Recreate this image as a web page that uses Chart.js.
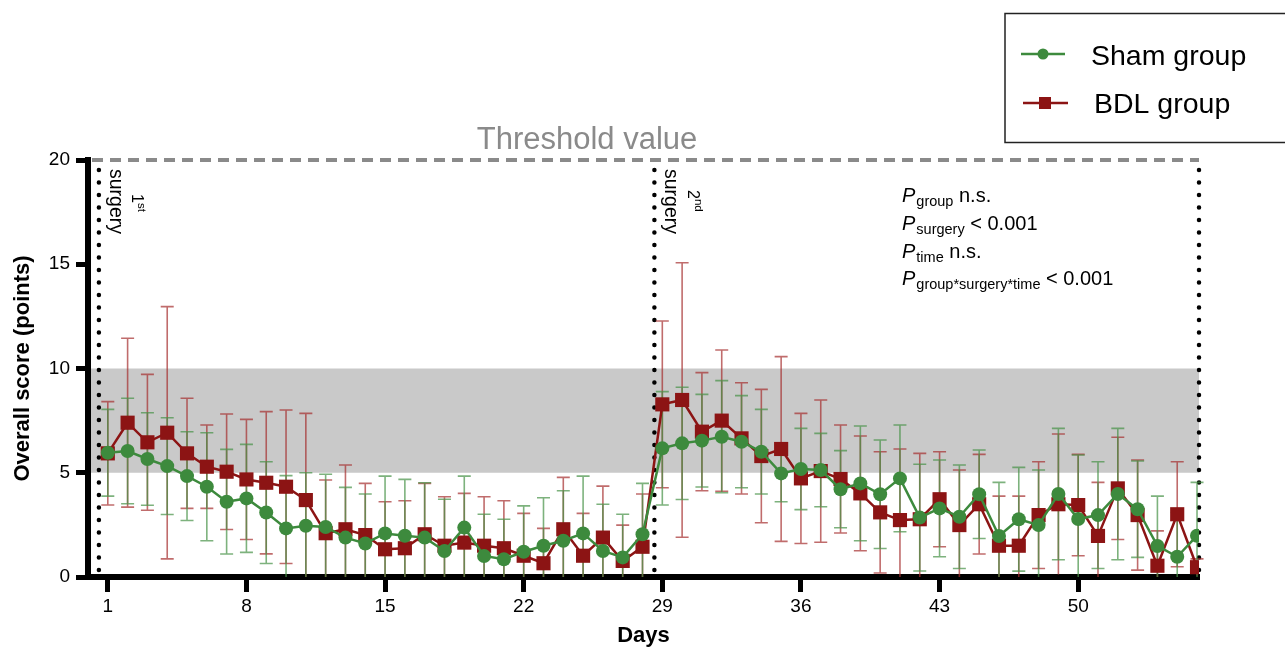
<!DOCTYPE html>
<html>
<head>
<meta charset="utf-8">
<script src="https://cdn.jsdelivr.net/npm/chart.js@4.4.1/dist/chart.umd.min.js"></script>
<style>
  html, body { margin: 0; padding: 0; background: #fff; }
  #wrap { width: 1285px; height: 650px; position: relative; }
</style>
</head>
<body>
<div id="wrap"><canvas id="scoreChart"></canvas></div>
<script>
// ---- data ----
const days = [1, 2, 3, 4, 5, 6, 7, 8, 9, 10, 11, 12, 13, 14, 15, 16, 17, 18, 19, 20, 21, 22, 23, 24, 25, 26, 27, 28,
              29, 30, 31, 32, 33, 34, 35, 36, 37, 38, 39, 40, 41, 42, 43, 44, 45, 46, 47, 48, 49, 50, 51, 52, 53, 54, 55, 56];
const xTickValues = [1, 8, 15, 22, 29, 36, 43, 50];

const shamMean = [5.96, 6.04, 5.66, 5.32, 4.84, 4.33, 3.61, 3.77, 3.09, 2.33, 2.46, 2.40, 1.89, 1.61, 2.09, 1.98, 1.89, 1.25, 2.37, 1.01, 0.85, 1.21, 1.50, 1.74, 2.09, 1.25, 0.94, 2.05,
                  6.17, 6.41, 6.54, 6.73, 6.49, 6.01, 4.97, 5.18, 5.13, 4.21, 4.49, 3.97, 4.73, 2.85, 3.29, 2.89, 3.97, 1.97, 2.77, 2.49, 3.98, 2.78, 2.97, 3.98, 3.25, 1.49, 0.97, 1.98];
const shamSD   = [2.08, 2.53, 2.22, 2.32, 2.13, 2.59, 2.51, 2.59, 2.44, 2.53, 2.54, 2.53, 2.41, 2.37, 2.75, 2.70, 2.63, 2.48, 2.47, 2.00, 1.92, 2.20, 2.30, 2.40, 2.75, 2.24, 2.07, 2.44,
                  2.72, 2.69, 2.22, 2.69, 2.21, 2.03, 1.36, 1.95, 1.76, 1.85, 2.75, 2.60, 2.56, 2.56, 2.32, 2.48, 2.12, 2.57, 2.49, 2.64, 3.15, 3.07, 2.56, 3.15, 2.31, 2.39, 2.12, 2.56];

const bdlMean  = [5.93, 7.40, 6.46, 6.92, 5.93, 5.29, 5.05, 4.68, 4.52, 4.33, 3.69, 2.10, 2.29, 2.01, 1.33, 1.38, 2.05, 1.50, 1.65, 1.50, 1.38, 1.02, 0.66, 2.29, 1.02, 1.89, 0.77, 1.45,
                  8.28, 8.49, 6.97, 7.50, 6.65, 5.80, 6.14, 4.73, 5.08, 4.70, 4.01, 3.10, 2.73, 2.77, 3.73, 2.49, 3.49, 1.50, 1.50, 2.97, 3.49, 3.45, 1.97, 4.25, 2.97, 0.54, 3.01, 0.47];
const bdlSD    = [2.48, 4.05, 3.26, 6.05, 2.64, 2.00, 2.77, 2.88, 3.41, 3.68, 4.16, 2.55, 3.08, 2.48, 2.28, 2.28, 2.44, 2.35, 2.36, 2.35, 2.28, 2.03, 1.67, 2.49, 2.03, 2.47, 1.72, 2.53,
                  4.00, 6.58, 2.83, 3.39, 2.67, 3.20, 4.43, 3.12, 3.41, 2.59, 2.75, 2.91, 3.41, 3.16, 2.28, 2.64, 2.39, 2.38, 2.38, 2.56, 3.37, 2.43, 2.57, 2.45, 2.64, 1.67, 2.52, 0.40];

const normalBand = [5, 10];          // grey shaded range
const thresholdValue = 20;           // dashed line
const surgeryDays = [0.55, 28.6];    // dotted vertical lines
const statLines = [
    ['group', ' n.s.'],
    ['surgery', ' < 0.001'],
    ['time', ' n.s.'],
    ['group*surgery*time', ' < 0.001']
];

const shamColor = '#3d8a3d';
const bdlColor = '#8c1414';
const shamBarColor = 'rgba(70, 145, 70, 0.7)';
const bdlBarColor = 'rgba(165, 45, 45, 0.7)';
const FONT = '"Liberation Sans", Arial, Helvetica, sans-serif';

function toPoints(means){
    return days.map((d, i) => ({x: d, y: means[i]}));
}

// error bars (mean +/- SD), clipped at 0
function drawErrorBars(ctx, x, y, means, sds, color){
    ctx.save();
    ctx.strokeStyle = color;
    ctx.lineWidth = 1.6;
    days.forEach((d, i) => {
        const px = x.getPixelForValue(d);
        const hi = means[i] + sds[i];
        const lo = means[i] - sds[i];
        const pHi = y.getPixelForValue(hi);
        const pLo = y.getPixelForValue(Math.max(0, lo));
        ctx.beginPath();
        ctx.moveTo(px, pHi);
        ctx.lineTo(px, pLo);
        ctx.moveTo(px - 6.5, pHi);
        ctx.lineTo(px + 6.5, pHi);
        if (lo > 0.15) {
            ctx.moveTo(px - 6.5, pLo);
            ctx.lineTo(px + 6.5, pLo);
        }
        ctx.stroke();
    });
    ctx.restore();
}

// rotated (top-to-bottom) text with optional superscript parts
function drawVertical(ctx, x, y, parts){
    ctx.save();
    ctx.translate(x, y);
    ctx.rotate(Math.PI / 2);
    ctx.fillStyle = '#000';
    ctx.textAlign = 'left';
    ctx.textBaseline = 'alphabetic';
    let cx = 0;
    parts.forEach(p => {
        ctx.font = p.font;
        ctx.fillText(p.t, cx, -(p.rise || 0));
        cx += ctx.measureText(p.t).width;
    });
    ctx.restore();
}

const overlayPlugin = {
    id: 'overlay',
    beforeDatasetsDraw(chart){
        const {ctx, chartArea: a, scales: {x, y}} = chart;
        ctx.save();
        // grey band
        const bTop = y.getPixelForValue(normalBand[1]);
        const bBot = y.getPixelForValue(normalBand[0]);
        ctx.fillStyle = '#c9c9c9';
        ctx.fillRect(a.left + 3, bTop, a.right - a.left - 3, bBot - bTop);

        // dotted surgery lines + right border
        ctx.strokeStyle = '#000';
        ctx.lineWidth = 4.5;
        ctx.lineCap = 'round';
        ctx.setLineDash([0, 12.5]);
        surgeryDays.concat([x.max]).forEach(d => {
            const px = x.getPixelForValue(d);
            ctx.beginPath();
            ctx.moveTo(px, y.getPixelForValue(thresholdValue) + 10);
            ctx.lineTo(px, a.bottom - 2);
            ctx.stroke();
        });
        ctx.setLineDash([]);

        // threshold line
        const tY = y.getPixelForValue(thresholdValue);
        ctx.strokeStyle = '#8a8a8a';
        ctx.lineWidth = 4;
        ctx.lineCap = 'butt';
        ctx.setLineDash([11, 7]);
        ctx.beginPath();
        ctx.moveTo(a.left + 4, tY);
        ctx.lineTo(a.right, tY);
        ctx.stroke();
        ctx.setLineDash([]);
        ctx.restore();

        // error bars
        drawErrorBars(ctx, x, y, bdlMean, bdlSD, bdlBarColor);
        drawErrorBars(ctx, x, y, shamMean, shamSD, shamBarColor);
    },
    afterDraw(chart){
        const {ctx, scales: {x}} = chart;
        ctx.save();
        // threshold label
        ctx.fillStyle = '#8a8a8a';
        ctx.font = '31px ' + FONT;
        ctx.textAlign = 'center';
        ctx.fillText('Threshold value', 587, 149);

        // surgery labels
        const s1 = x.getPixelForValue(surgeryDays[0]);
        const s2 = x.getPixelForValue(surgeryDays[1]);
        drawVertical(ctx, s1 + 11, 169, [{t: 'surgery', font: '19.5px ' + FONT}]);
        drawVertical(ctx, s1 + 33, 194, [{t: '1', font: '16px ' + FONT}, {t: 'st', font: '11.5px ' + FONT, rise: 6.5}]);
        drawVertical(ctx, s2 + 11, 169, [{t: 'surgery', font: '19.5px ' + FONT}]);
        drawVertical(ctx, s2 + 34, 190, [{t: '2', font: '16px ' + FONT}, {t: 'nd', font: '11.5px ' + FONT, rise: 6.5}]);

        // statistics block
        ctx.fillStyle = '#000';
        ctx.textAlign = 'left';
        statLines.forEach((ln, i) => {
            const by = 202 + i * 27.8;
            let cx = 902;
            ctx.font = 'italic 20px ' + FONT;
            ctx.fillText('P', cx, by);
            cx += ctx.measureText('P').width + 1;
            ctx.font = '14.5px ' + FONT;
            ctx.fillText(ln[0], cx, by + 4);
            cx += ctx.measureText(ln[0]).width;
            ctx.font = '20px ' + FONT;
            ctx.fillText(ln[1], cx, by);
        });

        // legend box
        ctx.strokeStyle = '#222';
        ctx.lineWidth = 1.5;
        ctx.strokeRect(1005, 13.5, 300, 129);
        const ds = chart.data.datasets;
        ctx.lineWidth = 2.5;
        // sham entry
        ctx.strokeStyle = shamColor;
        ctx.beginPath(); ctx.moveTo(1021, 54); ctx.lineTo(1065, 54); ctx.stroke();
        ctx.fillStyle = shamColor;
        ctx.beginPath(); ctx.arc(1043, 54, 5.5, 0, Math.PI * 2); ctx.fill();
        // bdl entry
        ctx.strokeStyle = bdlColor;
        ctx.beginPath(); ctx.moveTo(1023, 103); ctx.lineTo(1068, 103); ctx.stroke();
        ctx.fillStyle = bdlColor;
        ctx.fillRect(1039, 97, 12, 12);
        ctx.fillStyle = '#000';
        ctx.font = '28.5px ' + FONT;
        ctx.fillText(ds[0].label, 1091, 65);
        ctx.fillText(ds[1].label, 1094, 113);
        ctx.restore();
    }
};

new Chart(document.getElementById('scoreChart'), {
    type: 'line',
    data: {
        datasets: [
            {
                label: 'Sham group',
                data: toPoints(shamMean),
                borderColor: shamColor,
                backgroundColor: shamColor,
                borderWidth: 2.5,
                pointStyle: 'circle',
                pointRadius: 7,
                pointBorderWidth: 0,
                fill: false,
                tension: 0
            },
            {
                label: 'BDL group',
                data: toPoints(bdlMean),
                borderColor: bdlColor,
                backgroundColor: bdlColor,
                borderWidth: 2.5,
                pointStyle: 'rect',
                pointRadius: 10,
                pointBorderWidth: 0,
                fill: false,
                tension: 0
            }
        ]
    },
    options: {
        responsive: true,
        maintainAspectRatio: false,
        animation: false,
        layout: { padding: { top: 160, right: 86, left: 0, bottom: 0 } },
        plugins: {
            legend: { display: false },
            tooltip: { enabled: false }
        },
        scales: {
            x: {
                type: 'linear',
                min: 0,
                max: 56.1,
                afterBuildTicks: s => { s.ticks = xTickValues.map(v => ({value: v})); },
                afterFit: s => { s.height = 73; },
                ticks: {
                    autoSkip: false,
                    maxRotation: 0,
                    padding: 3,
                    color: '#000',
                    font: { family: FONT, size: 19 }
                },
                grid: {
                    drawOnChartArea: false,
                    drawTicks: true,
                    tickLength: 15,
                    tickWidth: 5,
                    tickColor: '#000',
                    color: '#000'
                },
                border: { color: '#000', width: 6 },
                title: {
                    display: true,
                    text: 'Days',
                    color: '#000',
                    font: { family: FONT, size: 22, weight: 'bold' },
                    padding: { top: 0, bottom: 1 }
                }
            },
            y: {
                min: 0,
                max: 20,
                afterFit: s => { s.width = 88; },
                ticks: {
                    stepSize: 5,
                    padding: 6,
                    color: '#000',
                    font: { family: FONT, size: 19 }
                },
                grid: {
                    drawOnChartArea: false,
                    drawTicks: true,
                    tickLength: 12,
                    tickWidth: 5,
                    tickColor: '#000',
                    color: '#000'
                },
                border: { color: '#000', width: 6 },
                title: {
                    display: true,
                    text: 'Overall score (points)',
                    color: '#000',
                    font: { family: FONT, size: 22, weight: 'bold' },
                    padding: { top: 10, bottom: 0 }
                }
            }
        }
    },
    plugins: [overlayPlugin]
});
</script>
</body>
</html>
